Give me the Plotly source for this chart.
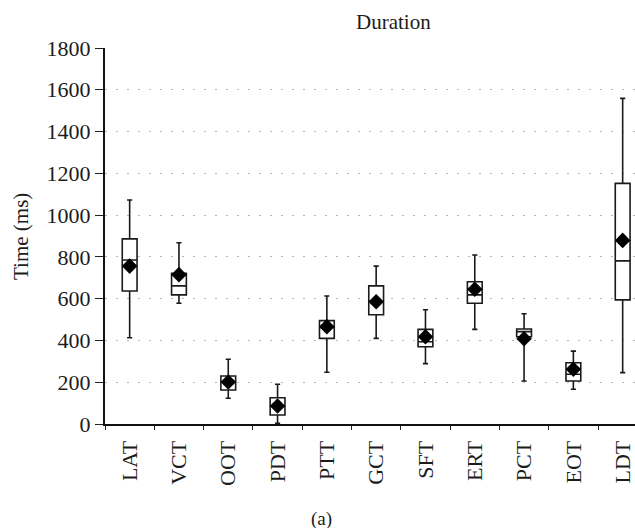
import plotly.graph_objects as go

categories = ["LAT", "VCT", "OOT", "PDT", "PTT", "GCT", "SFT", "ERT", "PCT", "EOT", "LDT"]
lower_whisker = [413, 578, 123, 3, 248, 410, 289, 453, 206, 166, 246]
q1_values = [637, 618, 163, 43, 410, 523, 370, 578, 418, 206, 594]
median_values = [785, 661, 200, 85, 462, 588, 394, 618, 442, 238, 781]
q3_values = [886, 721, 230, 126, 495, 661, 453, 681, 455, 293, 1152]
upper_whisker = [1072, 868, 310, 190, 613, 756, 547, 809, 528, 349, 1559]
mean_values = [756, 715, 201, 86, 466, 585, 418, 645, 408, 262, 879]
y_ticks = [0, 200, 400, 600, 800, 1000, 1200, 1400, 1600, 1800]

FONT = "Liberation Serif, Times New Roman, serif"
TEXT = "#1c1c1c"

fig = go.Figure()
fig.add_trace(go.Box(
    x=categories,
    q1=q1_values,
    median=median_values,
    q3=q3_values,
    lowerfence=lower_whisker,
    upperfence=upper_whisker,
    boxpoints=False,
    width=0.3,
    whiskerwidth=0.35,
    fillcolor="white",
    line=dict(color="#1a1a1a", width=1.6),
    showlegend=False,
    hoverinfo="skip",
))
fig.add_trace(go.Scatter(
    x=categories,
    y=mean_values,
    mode="markers",
    marker=dict(symbol="diamond", size=12, color="black"),
    showlegend=False,
    hoverinfo="skip",
))

fig.update_layout(
    width=635,
    height=528,
    margin=dict(l=105, r=0, t=48, b=104),
    paper_bgcolor="white",
    plot_bgcolor="white",
    font=dict(family=FONT, size=21, color=TEXT),
    xaxis=dict(
        type="category",
        range=[-0.5, 10.25],
        tickson="boundaries",
        ticks="outside",
        ticklen=4,
        tickcolor="#222222",
        tickangle=-90,
        ticklabelstandoff=6,
        showline=True,
        linecolor="#111111",
        linewidth=2,
        showgrid=False,
        zeroline=False,
        tickfont=dict(family=FONT, size=22, color=TEXT),
    ),
    yaxis=dict(
        range=[0, 1800],
        tickvals=y_ticks,
        ticks="outside",
        ticklen=8,
        tickcolor="#222222",
        showline=True,
        linecolor="#111111",
        linewidth=2,
        showgrid=True,
        gridcolor="#b5b5b5",
        gridwidth=1,
        griddash="2px,9px",
        zeroline=False,
        tickfont=dict(family=FONT, size=22, color=TEXT),
    ),
    annotations=[
        dict(text="Duration", xref="paper", yref="paper", x=0.5434, y=1.069,
             xanchor="center", yanchor="middle", showarrow=False,
             font=dict(family=FONT, size=21, color=TEXT)),
        dict(text="Time (ms)", xref="paper", yref="paper", x=-0.1585, y=0.5,
             xanchor="center", yanchor="middle", textangle=-90, showarrow=False,
             font=dict(family=FONT, size=21, color=TEXT)),
        dict(text="(a)", xref="paper", yref="paper", x=0.4094, y=-0.2527,
             xanchor="center", yanchor="middle", showarrow=False,
             font=dict(family=FONT, size=19, color=TEXT)),
    ],
)

fig.write_html("out.html")
